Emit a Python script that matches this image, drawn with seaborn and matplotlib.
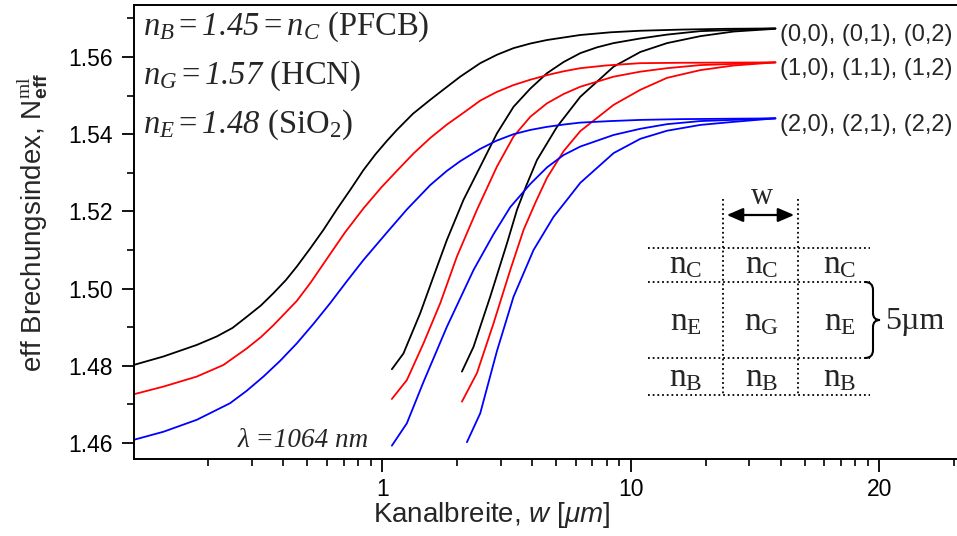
import matplotlib
matplotlib.use("Agg")
import numpy as np
import pandas as pd
import seaborn as sns
import matplotlib.pyplot as plt
from matplotlib.path import Path
from matplotlib.patches import PathPatch, FancyArrowPatch
from matplotlib.lines import Line2D
from matplotlib.ticker import FixedLocator, MultipleLocator, NullFormatter

# ---------------- data ----------------
w_00 = [0.1, 0.1318, 0.1796, 0.2162, 0.25, 0.2855, 0.325, 0.3653, 0.41, 0.4536, 0.515,
        0.5804, 0.66, 0.75, 0.8408, 0.94, 1.046, 1.146, 1.33, 1.56, 1.80, 2.06, 2.48,
        2.90, 3.376, 3.95, 4.601, 6.264, 8.30, 10.92, 16.0, 24.0, 38.14]
n_00 = [1.4802, 1.4824, 1.4854, 1.4876, 1.4898, 1.4927, 1.4956, 1.4988, 1.5022, 1.5057,
        1.5105, 1.5152, 1.5207, 1.5259, 1.5307, 1.5348, 1.5383, 1.5411, 1.5453, 1.5489,
        1.5520, 1.5549, 1.5584, 1.5606, 1.5623, 1.5635, 1.5644, 1.5657, 1.5664, 1.5668,
        1.5671, 1.5673, 1.5674]

w_10 = [0.1, 0.1318, 0.1796, 0.2298, 0.2855, 0.325, 0.3653, 0.4536, 0.515, 0.589,
        0.708, 0.8414, 0.992, 1.146, 1.337, 1.56, 1.821, 2.14, 2.48, 2.88, 3.365, 3.936,
        4.60, 5.37, 6.266, 7.94, 10.92, 15.85, 38.14]
n_10 = [1.4726, 1.4746, 1.4772, 1.4802, 1.4845, 1.4874, 1.4905, 1.4968, 1.5015, 1.5070,
        1.5145, 1.5208, 1.5262, 1.5305, 1.5350, 1.5390, 1.5425, 1.5457, 1.5487, 1.5509,
        1.5527, 1.5541, 1.5553, 1.5563, 1.5571, 1.5578, 1.5584, 1.5585, 1.5586]

w_20 = [0.1, 0.1318, 0.1796, 0.2445, 0.285, 0.333, 0.389, 0.4536, 0.53, 0.6175, 0.721,
        0.8408, 1.044, 1.257, 1.56, 1.821, 2.06, 2.48, 2.88, 3.376, 3.94, 4.601, 5.37,
        6.264, 8.3, 10.92, 15.8, 38.14]
n_20 = [1.4608, 1.4629, 1.4660, 1.4703, 1.4735, 1.4772, 1.4813, 1.4858, 1.4909, 1.4962,
        1.5019, 1.5074, 1.5145, 1.5205, 1.5268, 1.5305, 1.5330, 1.5362, 1.5383, 1.5400,
        1.5411, 1.5419, 1.5425, 1.5430, 1.5434, 1.5437, 1.5439, 1.5441]

w_01 = [1.094, 1.218, 1.422, 1.608, 1.821, 2.124, 2.480, 2.894, 3.376, 3.941, 4.601,
        5.366, 6.264, 7.31, 8.527, 10.92, 13.99, 19.04, 38.14]
n_01 = [1.4791, 1.4832, 1.4936, 1.5031, 1.5126, 1.5230, 1.5316, 1.5402, 1.5471, 1.5518,
        1.5558, 1.5587, 1.5610, 1.5625, 1.5636, 1.5648, 1.5658, 1.5667, 1.5674]

w_11 = [1.094, 1.257, 1.466, 1.712, 1.998, 2.405, 2.894, 3.376, 3.941, 4.601, 5.366,
        6.264, 8.527, 10.92, 13.99, 19.04, 38.14]
n_11 = [1.4714, 1.4763, 1.4858, 1.4962, 1.5083, 1.5204, 1.5316, 1.5394, 1.5445, 1.5480,
        1.5504, 1.5523, 1.5549, 1.5562, 1.5571, 1.5579, 1.5586]

w_21 = [1.094, 1.257, 1.466, 1.821, 2.330, 2.805, 3.274, 3.941, 4.601, 5.366, 6.264,
        8.527, 10.92, 13.99, 19.04, 38.14]
n_21 = [1.4593, 1.4651, 1.4758, 1.4901, 1.5048, 1.5141, 1.5211, 1.5271, 1.5314, 1.5346,
        1.5368, 1.5398, 1.5414, 1.5426, 1.5434, 1.5441]

w_02 = [2.093, 2.330, 2.720, 3.176, 3.485, 3.80, 4.193, 5.047, 6.264, 8.527, 10.92,
        13.99, 19.04, 25.93, 38.14]
n_02 = [1.4785, 1.4849, 1.4979, 1.5117, 1.5204, 1.5267, 1.5333, 1.5419, 1.5497, 1.5575,
        1.5613, 1.5636, 1.5654, 1.5666, 1.5673]

w_12 = [2.093, 2.405, 2.805, 3.274, 3.704, 4.128, 4.601, 5.366, 6.264, 8.527, 10.92,
        13.99, 19.04, 25.93, 38.14]
n_12 = [1.4707, 1.4781, 1.4910, 1.5048, 1.5152, 1.5222, 1.5287, 1.5356, 1.5408, 1.5476,
        1.5515, 1.5546, 1.5566, 1.5578, 1.5586]

w_22 = [2.192, 2.480, 2.894, 3.376, 4.063, 4.891, 5.538, 6.264, 8.527, 10.92, 13.99,
        19.04, 25.93, 38.14]
n_22 = [1.4602, 1.4677, 1.4838, 1.4979, 1.5100, 1.5186, 1.5230, 1.5274, 1.5351, 1.5388,
        1.5409, 1.5424, 1.5432, 1.5441]

mode_groups = ["0", "1", "2"]
group_labels = ["(0,0), (0,1), (0,2)", "(1,0), (1,1), (1,2)", "(2,0), (2,1), (2,2)"]
group_colors = ["#000000", "#ff0000", "#0000ff"]

x_ticks = [1, 10, 100]
x_ticklabels = ["1", "10", "20"]
y_ticks = [1.46, 1.48, 1.50, 1.52, 1.54, 1.56]

curves = {
    "(0,0)": (w_00, n_00), "(1,0)": (w_10, n_10), "(2,0)": (w_20, n_20),
    "(0,1)": (w_01, n_01), "(1,1)": (w_11, n_11), "(2,1)": (w_21, n_21),
    "(0,2)": (w_02, n_02), "(1,2)": (w_12, n_12), "(2,2)": (w_22, n_22),
}
rows = []
for mode, (ws, ns) in curves.items():
    for w, n in zip(ws, ns):
        rows.append({"mode": mode, "group": mode[1], "w": w, "n": n})
df = pd.DataFrame(rows)

# ---------------- style ----------------
sns.set_style("ticks")
plt.rcParams["font.family"] = ["Liberation Sans", "DejaVu Sans"]
plt.rcParams["mathtext.fontset"] = "custom"
plt.rcParams["mathtext.rm"] = "Liberation Serif"
plt.rcParams["mathtext.it"] = "Liberation Serif:italic"
plt.rcParams["mathtext.bf"] = "Liberation Sans:bold"
plt.rcParams["mathtext.sf"] = "Liberation Sans"
plt.rcParams["mathtext.cal"] = "Liberation Serif:italic"   # italic serif digits
plt.rcParams["mathtext.tt"] = "Liberation Sans:italic"     # italic sans letters

W, H = 957, 536
fig = plt.figure(figsize=(W / 100, H / 100), dpi=100)
ax_l, ax_r, ax_t, ax_b = 133.5, 957, 5, 459
ax = fig.add_axes([ax_l / W, 1 - ax_b / H, (ax_r - ax_l) / W, (ax_b - ax_t) / H])

sns.lineplot(data=df, x="w", y="n", hue="group", units="mode", estimator=None,
             sort=False, palette=dict(zip(mode_groups, group_colors)),
             linewidth=1.3, legend=False, ax=ax)

ax.set_xscale("log")
ax.set_xlim(0.1, 205)
ax.set_ylim(1.45585, 1.57347)
ax.xaxis.set_major_locator(FixedLocator(x_ticks))
ax.set_xticklabels(x_ticklabels)
ax.xaxis.set_minor_formatter(NullFormatter())
ax.yaxis.set_major_locator(FixedLocator(y_ticks))
ax.yaxis.set_minor_locator(MultipleLocator(0.01))
ax.set_yticklabels([f"{v:.2f}" for v in y_ticks])

for s in ["left", "bottom", "top"]:
    ax.spines[s].set_linewidth(1.4)
    ax.spines[s].set_color("black")
ax.spines["right"].set_visible(False)
ax.tick_params(which="major", direction="out", length=9, width=1.3, labelsize=16.5,
               color="black", labelcolor="black")
ax.tick_params(axis="y", which="major", pad=6)
ax.tick_params(axis="x", which="major", pad=5)
ax.tick_params(which="minor", direction="out", length=5, width=1.2, color="black")
ax.tick_params(top=False, right=False, which="both")

ax.set_xlabel(r"Kanalbreite, $\mathtt{w}$ [$\mathtt{\mu m}$]", fontsize=20)
ax.set_ylabel(r"eff Brechungsindex, N$_{\mathbf{eff}}^{\mathrm{ml}}$", fontsize=20)
ax.xaxis.set_label_coords((492 - ax_l) / (ax_r - ax_l), (ax_b - 500) / (ax_b - ax_t))
ax.yaxis.set_label_coords((50 - ax_l) / (ax_r - ax_l), (ax_b - 222) / (ax_b - ax_t))


def P(px, py):
    return (px / W, 1 - py / H)


# refractive index annotations
serif = "Liberation Serif"
fig.text(*P(143, 35), r"$n_B = \mathcal{1.45} = n_C$ (PFCB)", fontsize=23.5, family=serif,
         va="baseline")
fig.text(*P(143, 84), r"$n_G = \mathcal{1.57}$ (HCN)", fontsize=23.5, family=serif,
         va="baseline")
fig.text(*P(143, 133), r"$n_E = \mathcal{1.48}$ (SiO$_2$)", fontsize=23.5, family=serif,
         va="baseline")
fig.text(*P(238, 447), "\u03bb =1064 nm", fontsize=19.5, family=serif, style="italic",
         va="baseline")

# mode group labels
for lab, yb in zip(group_labels, [41, 75, 131]):
    fig.text(*P(780, yb), lab, fontsize=17, va="baseline")

# ---------------- waveguide sketch ----------------
dot = dict(color="black", linestyle=(0, (1, 1.6)), linewidth=1.3, transform=fig.transFigure)
for yy in [248, 282, 358, 395]:
    (x0, y0), (x1, y1) = P(648, yy), P(870, yy)
    fig.add_artist(Line2D([x0, x1], [y0, y1], **dot))
for xx in [723, 798]:
    (x0, y0), (x1, y1) = P(xx, 199), P(xx, 395)
    fig.add_artist(Line2D([x0, x1], [y0, y1], **dot))

arr = FancyArrowPatch(P(724, 215), P(797, 215), transform=fig.transFigure,
                      arrowstyle="<|-|>,head_length=0.7,head_width=0.3",
                      mutation_scale=14, color="black", linewidth=1.6)
fig.add_artist(arr)
fig.text(*P(762, 196), "w", fontsize=22, family=serif, ha="center", va="center")

cells = [("C", 265), ("E", 322), ("B", 378)]
for sub, yc in cells:
    mids = ["E", "G", "E"] if sub == "E" else [sub, sub, sub]
    for xc, m in zip([686, 762, 840], mids):
        fig.text(*P(xc, yc), r"$\mathrm{n}_{\mathrm{%s}}$" % m, fontsize=24,
                 ha="center", va="center")

# curly brace
bx = 873
verts = [P(865, 282), P(bx, 282), P(bx, 290), P(bx, 313), P(bx, 320), P(880, 320),
         P(bx, 320), P(bx, 327), P(bx, 350), P(bx, 358), P(865, 358)]
codes = [Path.MOVETO, Path.CURVE3, Path.CURVE3, Path.LINETO, Path.CURVE3, Path.CURVE3,
         Path.CURVE3, Path.CURVE3, Path.LINETO, Path.CURVE3, Path.CURVE3]
fig.add_artist(PathPatch(Path(verts, codes), facecolor="none", edgecolor="black",
                         linewidth=1.5, transform=fig.transFigure))
fig.text(*P(885, 322), "5\u00b5m", fontsize=23, family=serif, va="center")

fig.savefig("out.png", dpi=100)
